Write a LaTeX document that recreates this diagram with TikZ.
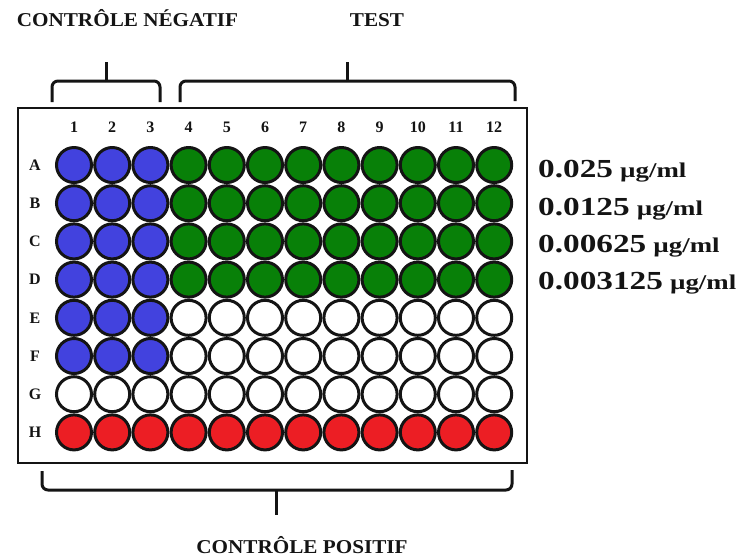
\documentclass[tikz,border=0pt]{standalone}
\usepackage{fontspec}
\setmainfont{Liberation Serif}
\definecolor{wblue}{RGB}{66,66,222}
\definecolor{wgreen}{RGB}{8,128,8}
\definecolor{wred}{RGB}{236,30,36}
\definecolor{ink}{RGB}{20,20,20}
\tikzset{
  well/.style={circle, draw=ink, line width=3pt, minimum size=35pt, inner sep=0pt},
  plate/.style={draw=ink, line width=2pt},
  bracket/.style={draw=ink, line width=3pt, rounded corners=6pt},
  title/.style={font=\fontsize{19.6}{20}\selectfont\bfseries, inner sep=0pt, anchor=base, text=ink},
  colnum/.style={font=\fontsize{16}{16}\selectfont\bfseries, inner sep=0pt, text=ink},
  conc/.style={anchor=base west, inner sep=0pt, text=ink}
}
\newcommand{\concl}[1]{\scalebox{1.28}[1]{\fontsize{26}{26}\selectfont\bfseries #1\hspace{5.5pt}{\fontsize{21}{21}\selectfont µg/ml}}}
\begin{document}
\begin{tikzpicture}[x=1pt,y=-1pt]
\useasboundingbox (0,0) rectangle (743,558);
\fill[white] (0,0) rectangle (743,558);
% titles
\node[title] (tneg) at (127.5,26) {\scalebox{1.08}[1]{CONTRÔLE NÉGATIF}};
\node[title] (ttest) at (377,26) {\scalebox{1.08}[1]{TEST}};
\node[title] (tpos) at (302,553) {\scalebox{1.08}[1]{CONTRÔLE POSITIF}};
% brackets
\draw[bracket] (52,102) -- (52,81) -- (160,81) -- (160,102);
\draw[draw=ink, line width=3pt] (106,82) -- (106,62);
\draw[bracket] (180,102) -- (180,81) -- (515,81) -- (515,101);
\draw[draw=ink, line width=3pt] (347,82) -- (347,62);
\draw[bracket] (42,471) -- (42,490) -- (512,490) -- (512,470);
\draw[draw=ink, line width=3pt] (276,489) -- (276,515);
% plate
\draw[plate] (18,108) rectangle (527,463);
% column numbers
\foreach \c in {1,...,12}{
  \node[colnum] (col\c) at ({74+(\c-1)*38.2},127) {\c};
}
% row letters and wells
\foreach \L [count=\r] in {A,B,C,D,E,F,G,H}{
  \node[colnum] (row\L) at (35,{165+(\r-1)*38.2}) {\L};
  \foreach \c in {1,...,12}{
    \pgfmathtruncatemacro{\isblue}{(\c<4)&&(\r<7)}
    \pgfmathtruncatemacro{\isgreen}{(\c>3)&&(\r<5)}
    \pgfmathtruncatemacro{\isred}{(\r==8)}
    \ifnum\isblue=1 \def\fc{wblue}\else
      \ifnum\isgreen=1 \def\fc{wgreen}\else
        \ifnum\isred=1 \def\fc{wred}\else \def\fc{white}\fi\fi\fi
    \node[well, fill=\fc] (w\L\c) at ({74+(\c-1)*38.2},{165+(\r-1)*38.2}) {};
  }
}
% concentrations
\node[conc] (cA) at (538,177) {\concl{0.025}};
\node[conc] (cB) at (538,215) {\concl{0.0125}};
\node[conc] (cC) at (538,252) {\concl{0.00625}};
\node[conc] (cD) at (538,289) {\concl{0.003125}};
\end{tikzpicture}
\end{document}
